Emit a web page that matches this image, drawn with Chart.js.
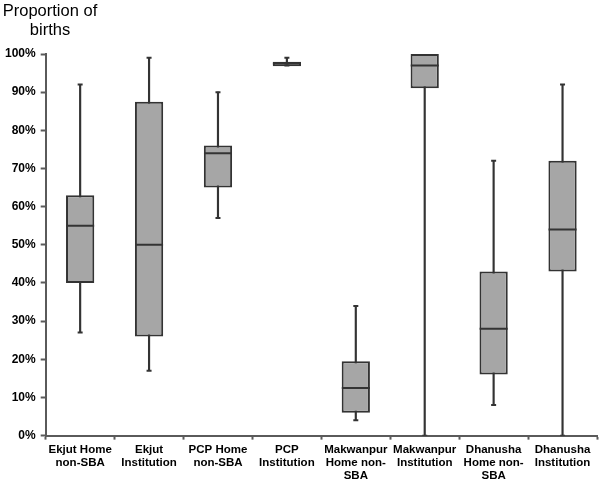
<!DOCTYPE html>
<html>
<head>
<meta charset="utf-8">
<script src="https://cdn.jsdelivr.net/npm/chart.js@4/dist/chart.umd.min.js"></script>
<style>
  body { margin: 0; background: #fff; }
  #wrap { position: relative; width: 600px; height: 479px; }
  #title {
    position: absolute; left: 0; top: 1px; width: 100px;
    font: 16.5px "Liberation Sans", Arial, sans-serif; text-align: center;
    line-height: 19px; color: #000;
  }
</style>
</head>
<body>
<div id="wrap">
  <canvas id="chart" width="600" height="479"></canvas>
  <div id="title">Proportion of<br>births</div>
</div>
<script>
// categories (multi-line labels)
const categories = [
  ["Ekjut Home", "non-SBA"],
  ["Ekjut", "Institution"],
  ["PCP Home", "non-SBA"],
  ["PCP", "Institution"],
  ["Makwanpur", "Home non-", "SBA"],
  ["Makwanpur", "Institution"],
  ["Dhanusha", "Home non-", "SBA"],
  ["Dhanusha", "Institution"]
];

// box plot values, percent of births
const minVals    = [27, 17, 57, 97,   4,  0,  8,  0];
const q1Vals     = [40, 26, 65, 96.8, 6,  91, 16, 43];
const medianVals = [55, 50, 74, 97.5, 12.5, 97, 28, 54];
const q3Vals     = [63, 87.5, 76, 98, 19.5, 100, 43, 72];
const maxVals    = [92, 99, 90, 99,  34, 100, 72, 92];

const yTicks = [0, 10, 20, 30, 40, 50, 60, 70, 80, 90, 100];

const dark = "#333333";
const axisColor = "#5a5a5a";
const boxFill = "#a6a6a6";

const ctx = document.getElementById("chart").getContext("2d");
const chart = new Chart(ctx, {
  type: "bar",
  data: {
    labels: categories,
    datasets: [
      {
        type: "line",
        label: "median",
        data: medianVals,
        showLine: false,
        pointStyle: "line",
        pointRadius: 14,
        pointHoverRadius: 14,
        borderColor: dark,
        borderWidth: 2,
        order: 0,
      },
      {
        type: "line",
        label: "max cap",
        data: maxVals,
        showLine: false,
        pointStyle: "line",
        pointRadius: 2.5,
        borderColor: dark,
        borderWidth: 2,
        order: 1,
      },
      {
        type: "line",
        label: "min cap",
        data: minVals,
        showLine: false,
        pointStyle: "line",
        pointRadius: 2.5,
        borderColor: dark,
        borderWidth: 2,
        order: 1,
      },
      {
        label: "box",
        data: q1Vals.map((q1, i) => [q1, q3Vals[i]]),
        backgroundColor: boxFill,
        borderColor: dark,
        borderWidth: 2,
        borderSkipped: false,
        barPercentage: 0.41,
        categoryPercentage: 1,
        grouped: false,
        order: 2,
      },
      {
        label: "whisker",
        data: minVals.map((mn, i) => [mn, maxVals[i]]),
        backgroundColor: dark,
        barThickness: 1.5,
        grouped: false,
        order: 3,
      },
    ],
  },
  options: {
    responsive: false,
    animation: false,
    layout: {
      autoPadding: false, // the median markers would otherwise push the right edge in
      padding: { left: 0, right: 3, top: 54, bottom: -7 },
    },
    plugins: {
      legend: { display: false },
      tooltip: { enabled: false },
      title: { display: false },
    },
    scales: {
      x: {
        grid: {
          drawOnChartArea: false,
          tickLength: 4,
          tickWidth: 2,
          tickColor: axisColor,
        },
        border: { color: axisColor, width: 2 },
        ticks: {
          color: "#000",
          maxRotation: 0,
          autoSkip: false,
          padding: 3,
          font: { family: "'Liberation Sans', Arial, sans-serif", size: 11.5, weight: "bold", lineHeight: 1.17 },
        },
      },
      y: {
        min: 0,
        max: 100,
        afterBuildTicks: (axis) => {
          axis.ticks = yTicks.map((v) => ({ value: v }));
        },
        grid: {
          drawOnChartArea: false,
          tickLength: 5,
          tickWidth: 2,
          tickColor: axisColor,
        },
        border: { color: axisColor, width: 2 },
        ticks: {
          color: "#000",
          padding: 5,
          callback: (v) => v + "%",
          font: { family: "'Liberation Sans', Arial, sans-serif", size: 12, weight: "bold" },
        },
      },
    },
  },
});
</script>
</body>
</html>
